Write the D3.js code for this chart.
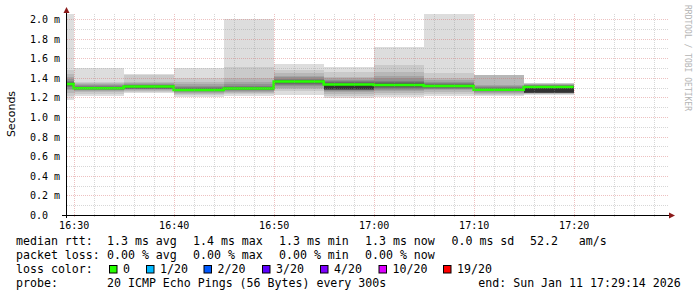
<!DOCTYPE html>
<html>
<head>
<meta charset="utf-8">
<script src="https://cdn.jsdelivr.net/npm/d3@7"></script>
<style>
  body { margin: 0; background: #fff; }
  svg { display: block; }
  text { font-family: "DejaVu Sans Mono", monospace; fill: #000; }
</style>
</head>
<body>
<svg id="chart" width="697" height="297"></svg>
<script>
"use strict";

// graph window
const viewStart = "16:29:14";
const viewEnd = "17:29:14";

// 5 minute steps (start of each step)
const steps = ["16:25", "16:30", "16:35", "16:40", "16:45", "16:50",
               "16:55", "17:00", "17:05", "17:10", "17:15"];

// 20 sorted pings per step, in ms
const pings = [
  [1.17, 1.21, 1.24, 1.27, 1.29, 1.31, 1.32, 1.33, 1.335, 1.34, 1.34, 1.345, 1.35, 1.36, 1.37, 1.39, 1.41, 1.44, 1.48, 2.20],
  [1.214, 1.235, 1.25, 1.26, 1.27, 1.275, 1.28, 1.285, 1.288, 1.29, 1.292, 1.296, 1.30, 1.31, 1.32, 1.33, 1.34, 1.35, 1.36, 1.50],
  [1.24, 1.25, 1.26, 1.27, 1.28, 1.285, 1.29, 1.30, 1.305, 1.31, 1.312, 1.315, 1.32, 1.325, 1.33, 1.34, 1.35, 1.36, 1.43, 1.44],
  [1.20, 1.22, 1.235, 1.245, 1.255, 1.26, 1.265, 1.27, 1.272, 1.275, 1.278, 1.28, 1.29, 1.30, 1.31, 1.32, 1.335, 1.36, 1.40, 1.50],
  [1.214, 1.23, 1.245, 1.255, 1.265, 1.27, 1.275, 1.28, 1.285, 1.288, 1.29, 1.295, 1.30, 1.31, 1.32, 1.34, 1.36, 1.395, 1.51, 2.00],
  [1.225, 1.26, 1.28, 1.30, 1.315, 1.325, 1.335, 1.345, 1.352, 1.358, 1.362, 1.366, 1.372, 1.38, 1.39, 1.405, 1.42, 1.446, 1.48, 1.54],
  [1.19, 1.21, 1.235, 1.255, 1.265, 1.27, 1.275, 1.278, 1.28, 1.282, 1.33, 1.335, 1.345, 1.355, 1.365, 1.38, 1.395, 1.41, 1.46, 1.507],
  [1.20, 1.22, 1.245, 1.26, 1.275, 1.29, 1.30, 1.31, 1.318, 1.325, 1.33, 1.335, 1.345, 1.355, 1.37, 1.395, 1.42, 1.46, 1.53, 1.71],
  [1.21, 1.235, 1.255, 1.27, 1.28, 1.29, 1.298, 1.305, 1.31, 1.314, 1.318, 1.322, 1.33, 1.34, 1.35, 1.36, 1.38, 1.40, 1.45, 2.30],
  [1.214, 1.225, 1.235, 1.245, 1.255, 1.262, 1.268, 1.272, 1.275, 1.277, 1.279, 1.283, 1.29, 1.30, 1.31, 1.32, 1.33, 1.425, 1.428, 1.43],
  [1.221, 1.232, 1.238, 1.242, 1.245, 1.246, 1.247, 1.248, 1.249, 1.25, 1.305, 1.31, 1.315, 1.32, 1.325, 1.33, 1.335, 1.34, 1.345, 1.35]
];

// median rtt per step, ms
const medians = [1.337, 1.292, 1.31, 1.276, 1.289, 1.362, 1.33, 1.327, 1.316, 1.278, 1.306];

const yTicks = [0, 0.2, 0.4, 0.6, 0.8, 1.0, 1.2, 1.4, 1.6, 1.8, 2.0];
const xTicks = ["16:30", "16:40", "16:50", "17:00", "17:10", "17:20"];

const rttLabel = "median rtt:";
const rttStats = ["1.3 ms avg", "1.4 ms max", "1.3 ms min", "1.3 ms now", "0.0 ms sd", "52.2   am/s"];
const lossLabel = "packet loss:";
const lossStats = ["0.00 % avg", "0.00 % max", "0.00 % min", "0.00 % now"];
const lossColorLabel = "loss color:";
const lossLevels = ["0", "1/20", "2/20", "3/20", "4/20", "10/20", "19/20"];
const lossColors = ["#26ff00", "#00b8ff", "#0059ff", "#5e00ff", "#7e00ff", "#dd00ff", "#ff0000"];
const probeLabel = "probe:";
const probeText = "20 ICMP Echo Pings (56 Bytes) every 300s";
const endText = "end: Sun Jan 11 17:29:14 2026";

(() => {
  const svg = d3.select("#chart");
  const parse = d3.timeParse("%H:%M:%S");
  const t0 = parse(viewStart), t1 = parse(viewEnd);

  const L = 66, R = 666, T = 14, B = 215;
  const x = d3.scaleTime().domain([t0, t1]).range([L, R]);
  const y = d3.scaleLinear().domain([0, 2.05]).range([B, T]);

  svg.append("defs").append("clipPath").attr("id", "plotclip")
    .append("rect").attr("x", L).attr("y", T).attr("width", R - L).attr("height", B - T);

  const rows = steps.map((s, i) => {
    const start = parse(s + ":00");
    return {
      start: start,
      end: d3.timeMinute.offset(start, 5),
      pings: pings[i].slice().sort(d3.ascending),
      median: medians[i]
    };
  });

  const plot = svg.append("g").attr("clip-path", "url(#plotclip)");

  // smoke: outer pair lightest, inner pair darkest
  const half = 10;
  const layers = rows.flatMap(r => d3.range(half).map(k => ({ r: r, k: k, lo: r.pings[k], hi: r.pings[19 - k] })));
  plot.selectAll("rect.smoke")
    .data(layers).enter()
    .append("rect")
    .attr("class", "smoke")
    .attr("shape-rendering", "crispEdges")
    .attr("x", d => x(d.r.start))
    .attr("width", d => x(d.r.end) - x(d.r.start))
    .attr("y", d => y(d.hi))
    .attr("height", d => y(d.lo) - y(d.hi))
    .attr("fill", d => {
      const c = Math.floor(190 / half * (half - (d.k + 1))) + 50;
      return d3.rgb(c, c, c);
    });

  // grid (rrdtool paints it over the graph)
  const grid = svg.append("g").attr("shape-rendering", "crispEdges");
  const minorCol = "rgba(140,140,140,0.35)";
  const majorCol = "rgba(210,100,100,0.4)";

  d3.range(1, 21).forEach(i => {
    const yy = Math.round(y(i / 10)) + 0.5;
    grid.append("line")
      .attr("x1", L + 1).attr("x2", R + 2).attr("y1", yy).attr("y2", yy)
      .attr("stroke", i % 2 === 0 ? majorCol : minorCol)
      .attr("stroke-dasharray", "1,1");
  });
  d3.timeMinute.every(2).range(t0, t1).forEach(t => {
    const xx = Math.round(x(t)) + 0.5;
    grid.append("line")
      .attr("x1", xx).attr("x2", xx).attr("y1", T).attr("y2", B + 3)
      .attr("stroke", t.getMinutes() % 10 === 0 ? majorCol : minorCol)
      .attr("stroke-dasharray", "1,1");
  });

  // median line
  const pts = rows.map(r => [r.start, r.median]);
  pts.push([rows[rows.length - 1].end, rows[rows.length - 1].median]);
  plot.append("path")
    .datum(pts)
    .attr("fill", "none")
    .attr("stroke", lossColors[0])
    .attr("stroke-width", 2.5)
    .attr("d", d3.line().x(d => x(d[0])).y(d => y(d[1])).curve(d3.curveStepAfter));

  // axes
  svg.append("line").attr("x1", L + 0.5).attr("x2", L + 0.5).attr("y1", B + 3).attr("y2", 11)
    .attr("stroke", "#000").attr("shape-rendering", "crispEdges");
  svg.append("line").attr("x1", L - 4).attr("x2", 670).attr("y1", B + 0.5).attr("y2", B + 0.5)
    .attr("stroke", "#000").attr("shape-rendering", "crispEdges");
  svg.append("path").attr("d", `M${L + 0.5},7 L${L + 3.5},13 L${L - 2.5},13 Z`).attr("fill", "#8b1a1a");
  svg.append("path").attr("d", `M675,${B + 0.5} L669,${B - 2.5} L669,${B + 3.5} Z`).attr("fill", "#8b1a1a");

  const xAxis = d3.axisBottom(x)
    .tickValues(xTicks.map(s => parse(s + ":00")))
    .tickFormat(d3.timeFormat("%H:%M"))
    .tickSize(0);
  const gx = svg.append("g").attr("transform", `translate(0,${B})`).call(xAxis);
  gx.select(".domain").remove();
  gx.selectAll("text").attr("y", 13.5).attr("dy", null)
    .attr("font-family", "DejaVu Sans Mono").attr("font-size", 10).attr("fill", "#000");

  const yAxis = d3.axisLeft(y)
    .tickValues(yTicks)
    .tickFormat(d => d === 0 ? "0.0" : d.toFixed(1) + " m")
    .tickSize(0);
  const gy = svg.append("g").attr("transform", `translate(${L},0)`).call(yAxis);
  gy.select(".domain").remove();
  gy.selectAll("text").attr("x", 30 - L).attr("dy", "0.36em").attr("text-anchor", "start")
    .attr("font-family", "DejaVu Sans Mono").attr("font-size", 10).attr("fill", "#000");

  svg.append("text")
    .attr("transform", "translate(15,114) rotate(-90)")
    .attr("text-anchor", "middle")
    .style("font-family", "DejaVu Sans")
    .attr("font-size", 11)
    .text("Seconds");

  svg.append("text")
    .attr("transform", "translate(685,5) rotate(90)")
    .attr("font-size", 8)
    .style("fill", "#b4b4b4")
    .text("RRDTOOL / TOBI OETIKER");

  // legend
  const fs = 11.6;
  const rowY = [245, 258.9, 272.8, 286.7];
  const statX = [107, 193, 279, 365, 451.5, 530];
  const leg = svg.append("g").attr("font-size", fs);

  leg.append("text").attr("x", 16).attr("y", rowY[0]).text(rttLabel);
  rttStats.forEach((s, i) => leg.append("text").attr("x", statX[i]).attr("y", rowY[0]).style("white-space", "pre").text(s));

  leg.append("text").attr("x", 16).attr("y", rowY[1]).text(lossLabel);
  lossStats.forEach((s, i) => leg.append("text").attr("x", statX[i]).attr("y", rowY[1]).text(s));

  leg.append("text").attr("x", 16).attr("y", rowY[2]).text(lossColorLabel);
  const swatchX = [109, 146, 203.5, 262, 320, 378.5, 443];
  lossLevels.forEach((s, i) => {
    leg.append("rect").attr("x", swatchX[i] + 0.5).attr("y", 265.5).attr("width", 7.5).attr("height", 7.5)
      .attr("fill", lossColors[i]).attr("stroke", "#000").attr("stroke-width", 1);
    leg.append("text").attr("x", swatchX[i] + 14).attr("y", rowY[2]).text(s);
  });

  leg.append("text").attr("x", 16).attr("y", rowY[3]).text(probeLabel);
  leg.append("text").attr("x", 107).attr("y", rowY[3]).text(probeText);
  leg.append("text").attr("x", 478.3).attr("y", rowY[3]).text(endText);
})();
</script>
</body>
</html>
